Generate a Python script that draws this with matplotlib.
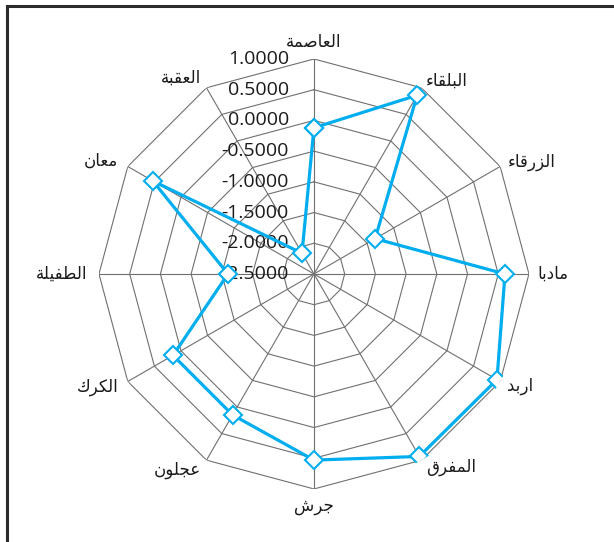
import matplotlib.pyplot as plt
from matplotlib.lines import Line2D
import numpy as np

# governorates, clockwise from the top
categories = ["العاصمة", "البلقاء", "الزرقاء", "مادبا", "اربد", "المفرق",
              "جرش", "عجلون", "الكرك", "الطفيلة", "معان", "العقبة"]
values = [-0.12, 0.86, -1.35, 0.61, 0.94, 0.93, 0.53, 0.15, 0.15, -1.10, 0.53, -2.11]
ticks = [-2.5, -2.0, -1.5, -1.0, -0.5, 0.0, 0.5, 1.0]
tick_labels = ["%.4f" % t for t in ticks]

# arabic presentation forms (isolated, final, initial, medial)
# matplotlib has no text shaping, so join the letters by hand
FORMS = {
    'ء': ('\uFE80',),
    'ا': ('\uFE8D', '\uFE8E'),
    'ة': ('\uFE93', '\uFE94'),
    'د': ('\uFEA9', '\uFEAA'),
    'ر': ('\uFEAD', '\uFEAE'),
    'ز': ('\uFEAF', '\uFEB0'),
    'و': ('\uFEED', '\uFEEE'),
    'ب': ('\uFE8F', '\uFE90', '\uFE91', '\uFE92'),
    'ج': ('\uFE9D', '\uFE9E', '\uFE9F', '\uFEA0'),
    'ش': ('\uFEB5', '\uFEB6', '\uFEB7', '\uFEB8'),
    'ص': ('\uFEB9', '\uFEBA', '\uFEBB', '\uFEBC'),
    'ط': ('\uFEC1', '\uFEC2', '\uFEC3', '\uFEC4'),
    'ع': ('\uFEC9', '\uFECA', '\uFECB', '\uFECC'),
    'ف': ('\uFED1', '\uFED2', '\uFED3', '\uFED4'),
    'ق': ('\uFED5', '\uFED6', '\uFED7', '\uFED8'),
    'ك': ('\uFED9', '\uFEDA', '\uFEDB', '\uFEDC'),
    'ل': ('\uFEDD', '\uFEDE', '\uFEDF', '\uFEE0'),
    'م': ('\uFEE1', '\uFEE2', '\uFEE3', '\uFEE4'),
    'ن': ('\uFEE5', '\uFEE6', '\uFEE7', '\uFEE8'),
    'ي': ('\uFEF1', '\uFEF2', '\uFEF3', '\uFEF4'),
}


def shape(word):
    out = []
    for i, ch in enumerate(word):
        f = FORMS[ch]
        prev_joins = i > 0 and len(FORMS[word[i - 1]]) == 4
        next_joins = len(f) == 4 and i + 1 < len(word) and len(FORMS[word[i + 1]]) >= 2
        if len(f) == 1:
            out.append(f[0])
        elif prev_joins and next_joins:
            out.append(f[3])
        elif prev_joins:
            out.append(f[1])
        elif next_joins:
            out.append(f[2])
        else:
            out.append(f[0])
    return ''.join(reversed(out))  # right to left


blue = '#00AEEF'
grid_col = '#707070'

fig = plt.figure(figsize=(6.14, 5.42), dpi=100)
ax = fig.add_axes([0.1612, 0.0978, 0.7003, 0.7934], projection='polar')
ax.set_theta_zero_location('N')
ax.set_theta_direction(-1)
ax.set_ylim(ticks[0], ticks[-1])
ax.grid(False)
ax.set_xticks([])
ax.set_yticks([])
ax.spines['polar'].set_visible(False)
ax.patch.set_alpha(0)

n = len(categories)
theta = np.arange(n) * 2 * np.pi / n
closed = np.append(theta, theta[0])

# web: rings and spokes
for t in ticks[1:]:
    ax.plot(closed, [t] * (n + 1), color=grid_col, lw=0.8, zorder=1)
for th in theta:
    ax.plot([th, th], [ticks[0], ticks[-1]], color=grid_col, lw=0.8, zorder=1)

# radial tick labels along the top spoke
for t, lab in zip(ticks, tick_labels):
    ax.annotate(lab, xy=(0, t), xytext=(-18, 0), textcoords='offset points',
                ha='right', va='center', fontsize=14, family='Open Sans',
                color='#1a1a1a', annotation_clip=False, zorder=2)

# data
ax.plot(closed, values + values[:1], color=blue, lw=2.3, zorder=3,
        marker='D', ms=9, mfc='white', mec=blue, mew=1.5)

# category labels
for th, name in zip(theta, categories):
    s, c = np.sin(th), np.cos(th)
    if s > 0.1:
        ha = 'left'
    elif s < -0.1:
        ha = 'right'
    else:
        ha = 'center'
    va = 'center'
    if abs(s) < 0.1:
        va = 'bottom' if c > 0 else 'top'
    k = 6 if s >= 0 else 8
    ax.annotate(shape(name), xy=(th, ticks[-1]), xytext=(s * k, c * k),
                textcoords='offset points', ha=ha, va=va, fontsize=12,
                family='DejaVu Sans', color='#1a1a1a', annotation_clip=False)

# chart frame, only top and left edges show
fig.add_artist(Line2D([7 / 614, 1.0], [1 - 5.5 / 542, 1 - 5.5 / 542],
                      transform=fig.transFigure, color='#2b2b2b', lw=2.2))
fig.add_artist(Line2D([7 / 614, 7 / 614], [0.0, 1 - 5.5 / 542],
                      transform=fig.transFigure, color='#2b2b2b', lw=2.2))

fig.savefig('out.png', dpi=100)
